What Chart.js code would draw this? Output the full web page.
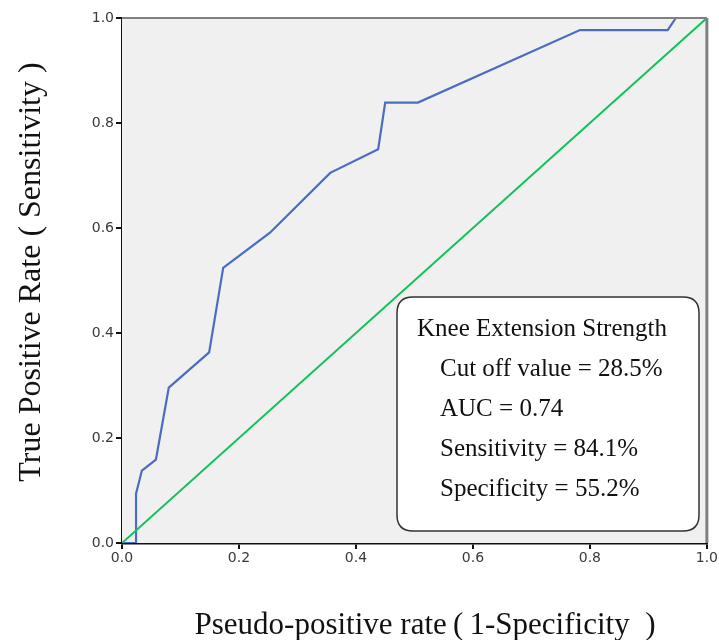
<!DOCTYPE html>
<html>
<head>
<meta charset="utf-8">
<script src="https://cdn.jsdelivr.net/npm/chart.js@4"></script>
<style>
html,body{margin:0;padding:0;background:#fff;}
canvas{display:block;}
</style>
</head>
<body>
<canvas id="c" width="719" height="640"></canvas>
<script>
// ROC curve
const fpr = [0, 0.024, 0.024, 0.034, 0.058, 0.080, 0.149, 0.173, 0.253, 0.356, 0.438, 0.450, 0.506, 0.783, 0.933, 0.947, 1.0];
const tpr = [0, 0, 0.094, 0.138, 0.159, 0.296, 0.363, 0.524, 0.591, 0.705, 0.750, 0.839, 0.839, 0.977, 0.977, 1.0, 1.0];
const refX = [0, 1];
const refY = [0, 1];
const tickValues = [0, 0.2, 0.4, 0.6, 0.8, 1.0];
const xTitle = "Pseudo-positive rate\u2009(\u20091-Specificity\u2002)";
const yTitle = "True Positive Rate ( Sensitivity )";
const boxTitle = "Knee Extension Strength";
const boxLines = ["Cut off value = 28.5%", "AUC = 0.74", "Sensitivity = 84.1%", "Specificity = 55.2%"];

const rocData = fpr.map((x, i) => ({x: x, y: tpr[i]}));
const refData = refX.map((x, i) => ({x: x, y: refY[i]}));

const serif = "'Liberation Serif', 'DejaVu Serif', serif";

const decor = {
  id: 'decor',
  beforeDatasetsDraw(chart) {
    const {ctx, chartArea: a} = chart;
    ctx.save();
    ctx.fillStyle = '#f0f0f0';
    ctx.fillRect(a.left, a.top, a.right - a.left, a.bottom - a.top);
    ctx.restore();
  },
  afterDatasetsDraw(chart) {
    const {ctx, chartArea: a} = chart;
    ctx.save();
    // top and right frame
    ctx.strokeStyle = '#808080';
    ctx.lineWidth = 2;
    ctx.beginPath();
    ctx.moveTo(a.left, a.top);
    ctx.lineTo(a.right, a.top);
    ctx.stroke();
    ctx.lineWidth = 3;
    ctx.beginPath();
    ctx.moveTo(a.right, a.top);
    ctx.lineTo(a.right, a.bottom);
    ctx.stroke();

    // annotation box
    const bx = 397, by = 297, bw = 302, bh = 234, r = 16;
    ctx.beginPath();
    ctx.moveTo(bx + r, by);
    ctx.lineTo(bx + bw - r, by);
    ctx.quadraticCurveTo(bx + bw, by, bx + bw, by + r);
    ctx.lineTo(bx + bw, by + bh - r);
    ctx.quadraticCurveTo(bx + bw, by + bh, bx + bw - r, by + bh);
    ctx.lineTo(bx + r, by + bh);
    ctx.quadraticCurveTo(bx, by + bh, bx, by + bh - r);
    ctx.lineTo(bx, by + r);
    ctx.quadraticCurveTo(bx, by, bx + r, by);
    ctx.closePath();
    ctx.fillStyle = '#ffffff';
    ctx.fill();
    ctx.strokeStyle = '#333333';
    ctx.lineWidth = 1.5;
    ctx.stroke();

    ctx.fillStyle = '#111111';
    ctx.textBaseline = 'alphabetic';
    ctx.textAlign = 'left';
    ctx.font = "25px " + serif;
    ctx.fillText(boxTitle, 417, 336);
    const ys = [376, 416, 456, 496];
    boxLines.forEach((t, i) => ctx.fillText(t, 440, ys[i]));

    // axis titles
    ctx.textAlign = 'center';
    ctx.fillStyle = '#111111';
    ctx.font = "31px " + serif;
    ctx.fillText(xTitle, 425, 634);
    ctx.font = "32px " + serif;
    ctx.translate(40, 272);
    ctx.rotate(-Math.PI / 2);
    ctx.fillText(yTitle, 0, 0);
    ctx.restore();
  }
};

const tickFont = {family: "'DejaVu Sans', 'Liberation Sans', Arial, sans-serif", size: 14};

new Chart(document.getElementById('c'), {
  type: 'scatter',
  data: {
    datasets: [
      {data: refData, showLine: true, borderColor: '#11c25a', borderWidth: 2, pointRadius: 0, fill: false},
      {data: rocData, showLine: true, borderColor: '#4a6cc4', borderWidth: 2.2, pointRadius: 0, fill: false, tension: 0}
    ]
  },
  options: {
    responsive: false,
    animation: false,
    events: [],
    layout: {padding: {left: 70, top: 18, right: 10, bottom: 72}},
    plugins: {legend: {display: false}, tooltip: {enabled: false}},
    scales: {
      x: {
        type: 'linear', min: 0, max: 1,
        afterBuildTicks(s) { s.ticks = tickValues.map(v => ({value: v})); },
        afterFit(s) { s.height = 25; },
        ticks: {font: tickFont, color: '#3a3a3a', padding: 1, callback: v => v.toFixed(1)},
        grid: {drawOnChartArea: false, drawTicks: true, tickLength: 6, color: '#111', lineWidth: 2},
        border: {display: true, color: '#111', width: 2.5}
      },
      y: {
        type: 'linear', min: 0, max: 1,
        afterBuildTicks(s) { s.ticks = tickValues.map(v => ({value: v})); },
        afterFit(s) { s.width = 52; },
        ticks: {font: tickFont, color: '#3a3a3a', padding: 2, callback: v => v.toFixed(1)},
        grid: {drawOnChartArea: false, drawTicks: true, tickLength: 6, color: '#111', lineWidth: 2},
        border: {display: true, color: '#111', width: 2.5}
      }
    }
  },
  plugins: [decor]
});
</script>
</body>
</html>
